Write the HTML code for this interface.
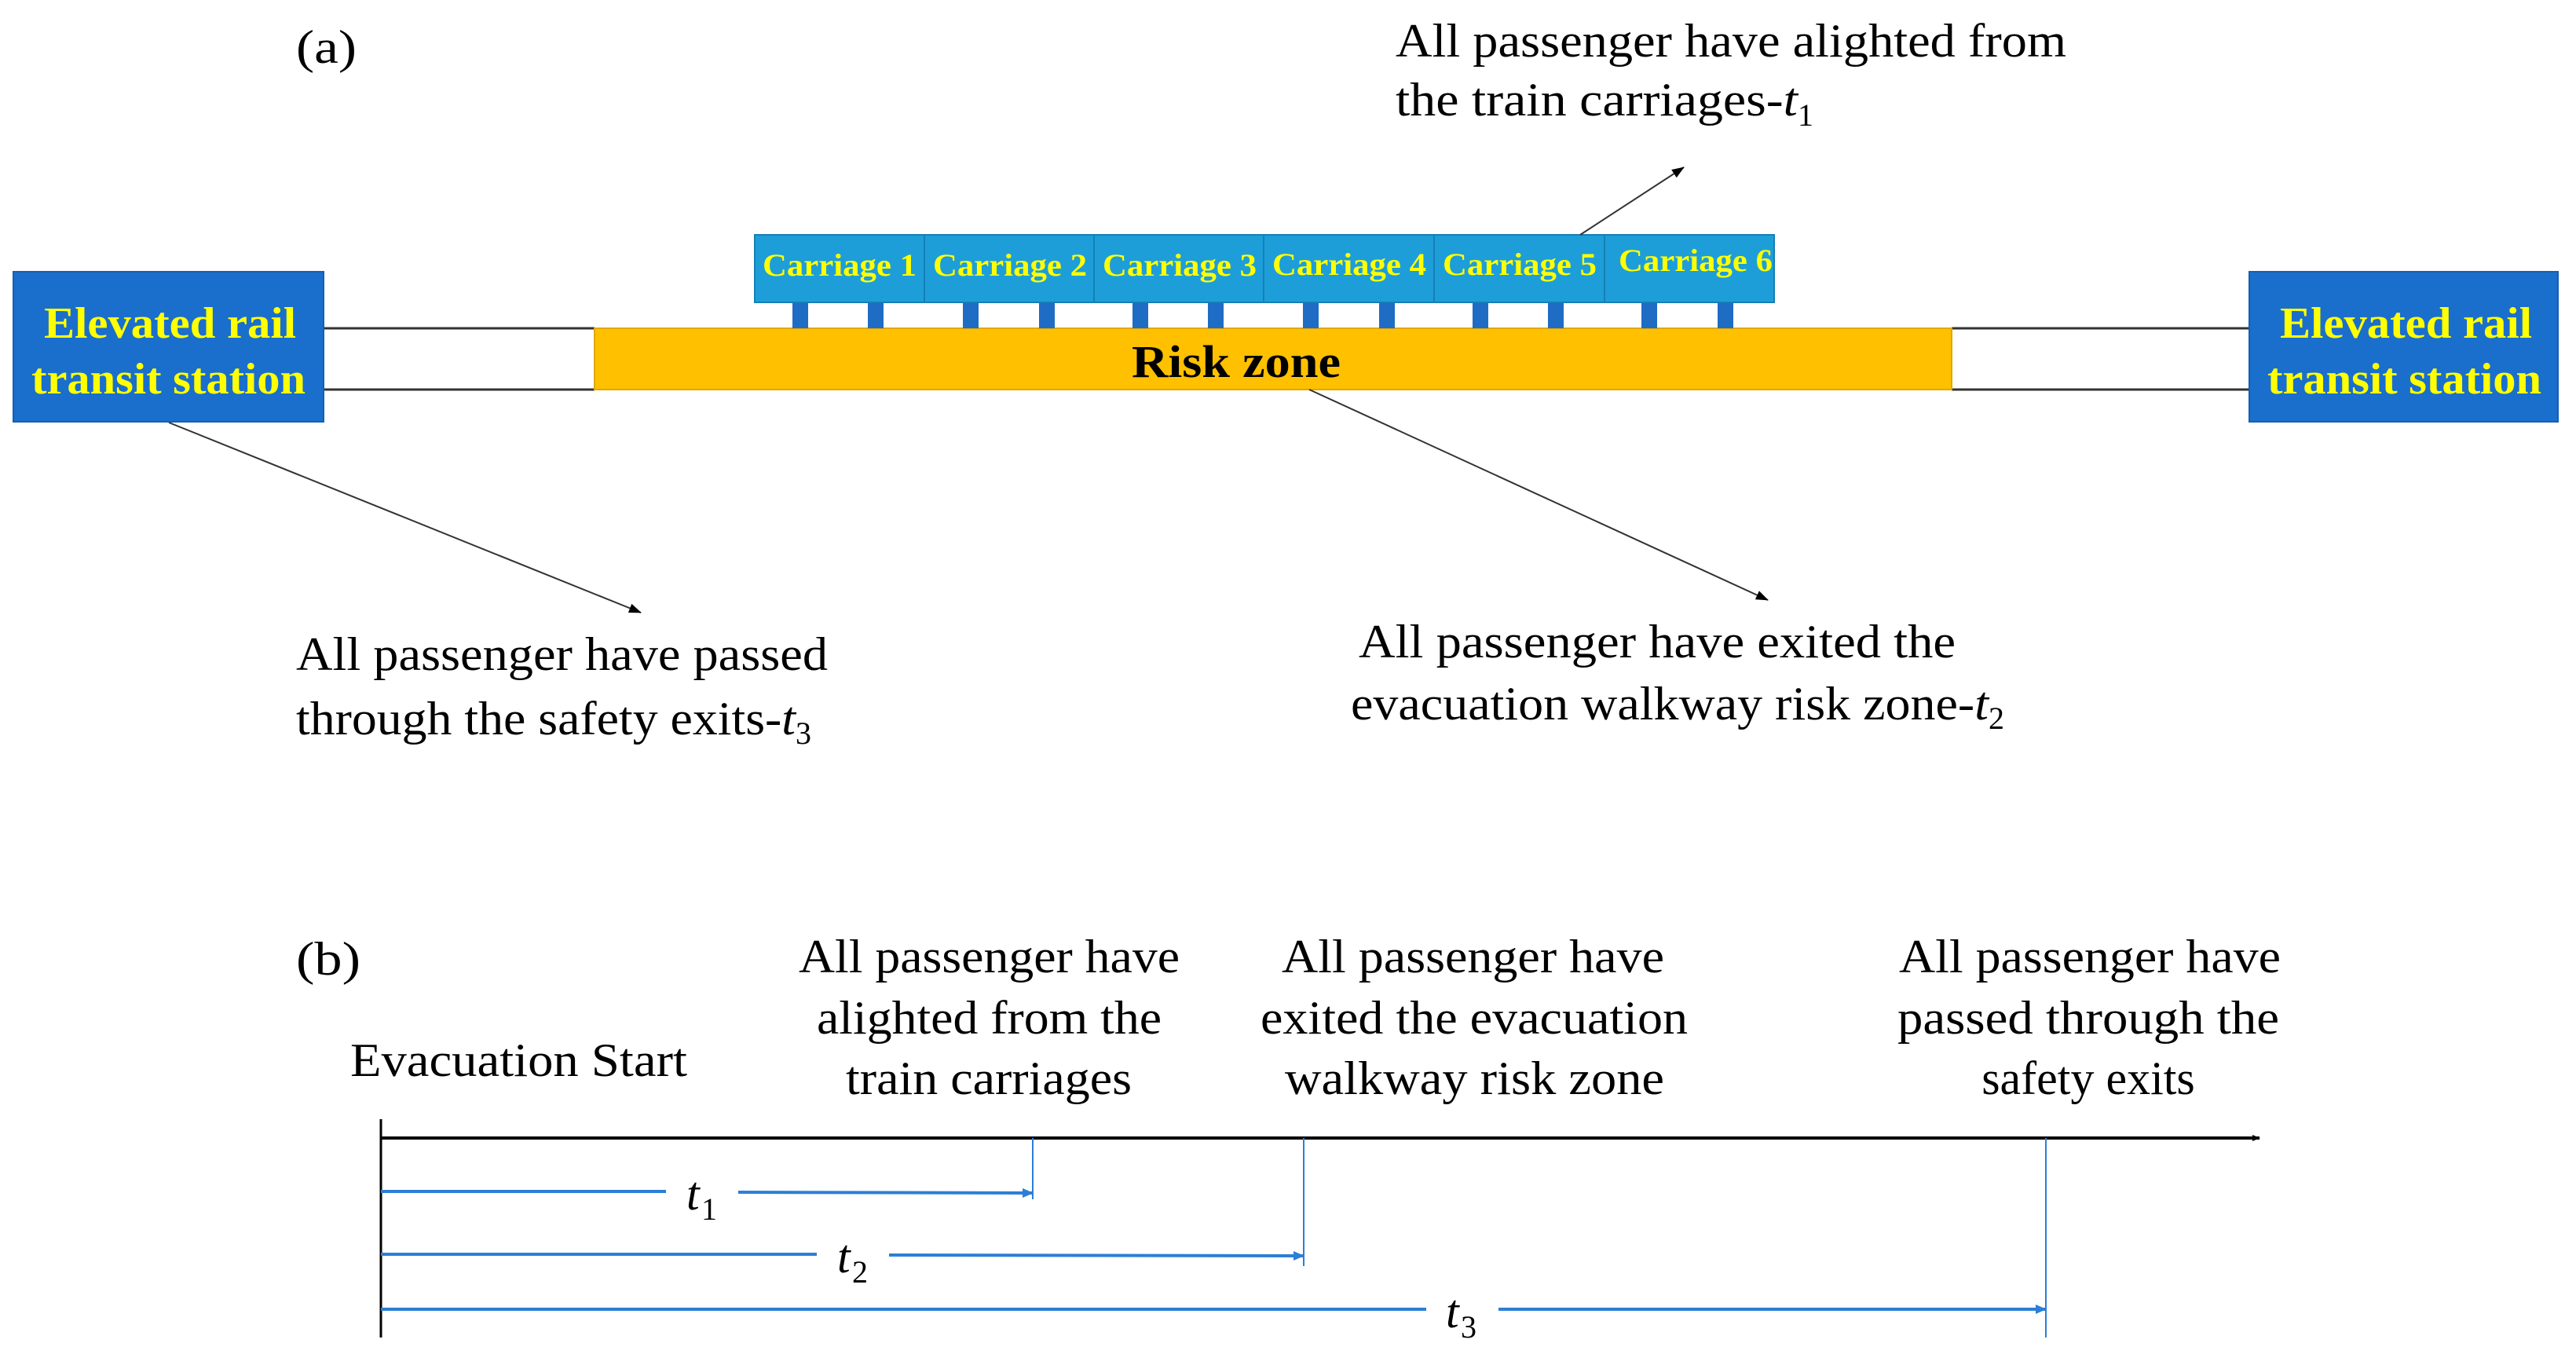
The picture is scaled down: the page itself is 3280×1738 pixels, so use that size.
<!DOCTYPE html>
<html><head><meta charset="utf-8"><style>
html,body{margin:0;padding:0;background:#fff;}
svg{display:block;}
text{font-family:"Liberation Serif",serif;}
</style></head><body>
<svg width="3280" height="1738" viewBox="0 0 3280 1738" xmlns="http://www.w3.org/2000/svg">
<defs>
<marker id="ak" markerWidth="10" markerHeight="8" refX="9" refY="4" orient="auto" markerUnits="userSpaceOnUse"><path d="M0,0 L10,4 L0,8 z" fill="#000"/></marker>
<marker id="ak2" markerWidth="16" markerHeight="12" refX="15" refY="6" orient="auto" markerUnits="userSpaceOnUse"><path d="M0,0 L16,6 L0,12 z" fill="#000"/></marker>
<marker id="ab" markerWidth="14" markerHeight="12" refX="13" refY="6" orient="auto" markerUnits="userSpaceOnUse"><path d="M0,0 L14,6 L0,12 z" fill="#2b7fd6"/></marker>
</defs>

<text x="377" y="80" font-size="60" textLength="77" lengthAdjust="spacingAndGlyphs">(a)</text>

<g stroke="#333" stroke-width="3">
<line x1="412" y1="418" x2="757" y2="418"/><line x1="412" y1="496" x2="757" y2="496"/>
<line x1="2485" y1="418" x2="2864" y2="418"/><line x1="2485" y1="496" x2="2864" y2="496"/>
</g>

<rect x="17" y="346" width="395" height="191" fill="#1a6fcc" stroke="#1560b0" stroke-width="2"/>
<text x="56" y="430" font-size="56" font-weight="bold" fill="#ffff00" textLength="321" lengthAdjust="spacingAndGlyphs">Elevated rail</text>
<text x="40" y="501" font-size="56" font-weight="bold" fill="#ffff00" textLength="349" lengthAdjust="spacingAndGlyphs">transit station</text>
<rect x="2864" y="346" width="393" height="191" fill="#1a6fcc" stroke="#1560b0" stroke-width="2"/>
<text x="2903" y="430" font-size="56" font-weight="bold" fill="#ffff00" textLength="321" lengthAdjust="spacingAndGlyphs">Elevated rail</text>
<text x="2887" y="501" font-size="56" font-weight="bold" fill="#ffff00" textLength="349" lengthAdjust="spacingAndGlyphs">transit station</text>

<rect x="757" y="418" width="1728" height="78" fill="#ffc000" stroke="#e0a800" stroke-width="2"/>
<text x="1441" y="480" font-size="58" font-weight="bold" fill="#000" textLength="266" lengthAdjust="spacingAndGlyphs">Risk zone</text>

<g fill="#1f6cc4">
<rect x="1009" y="385" width="20" height="33"/><rect x="1105" y="385" width="20" height="33"/>
<rect x="1226" y="385" width="20" height="33"/><rect x="1323" y="385" width="20" height="33"/>
<rect x="1442" y="385" width="20" height="33"/><rect x="1538" y="385" width="20" height="33"/>
<rect x="1659" y="385" width="20" height="33"/><rect x="1756" y="385" width="20" height="33"/>
<rect x="1875" y="385" width="20" height="33"/><rect x="1971" y="385" width="20" height="33"/>
<rect x="2090" y="385" width="20" height="33"/><rect x="2187" y="385" width="20" height="33"/>
</g>

<g fill="#1e9ed9" stroke="#167fb5" stroke-width="2">
<rect x="961" y="299" width="216" height="86"/>
<rect x="1177" y="299" width="216" height="86"/>
<rect x="1393" y="299" width="216" height="86"/>
<rect x="1609" y="299" width="217" height="86"/>
<rect x="1826" y="299" width="217" height="86"/>
<rect x="2043" y="299" width="216" height="86"/>
</g>
<g font-size="40" font-weight="bold" fill="#ffff00">
<text x="971" y="351" textLength="196" lengthAdjust="spacingAndGlyphs">Carriage 1</text>
<text x="1188" y="351" textLength="196" lengthAdjust="spacingAndGlyphs">Carriage 2</text>
<text x="1404" y="351" textLength="196" lengthAdjust="spacingAndGlyphs">Carriage 3</text>
<text x="1620" y="350" textLength="196" lengthAdjust="spacingAndGlyphs">Carriage 4</text>
<text x="1837" y="350" textLength="196" lengthAdjust="spacingAndGlyphs">Carriage 5</text>
<text x="2061" y="345" textLength="196" lengthAdjust="spacingAndGlyphs">Carriage 6</text>
</g>

<g stroke="#333" stroke-width="2" fill="none">
<line x1="2012" y1="299" x2="2144" y2="213" marker-end="url(#ak2)"/>
<line x1="215" y1="538" x2="816" y2="780" marker-end="url(#ak2)"/>
<line x1="1667" y1="496" x2="2251" y2="764" marker-end="url(#ak2)"/>
</g>

<g font-size="60" fill="#000">
<text x="1777" y="72" textLength="854" lengthAdjust="spacingAndGlyphs">All passenger have alighted from</text>
<text x="1777" y="147" textLength="512" lengthAdjust="spacingAndGlyphs">the train carriages-<tspan font-style="italic">t</tspan></text>
<text x="2289" y="160" font-size="40">1</text>
<text x="377" y="853" textLength="677" lengthAdjust="spacingAndGlyphs">All passenger have passed</text>
<text x="377" y="935" textLength="636" lengthAdjust="spacingAndGlyphs">through the safety exits-<tspan font-style="italic">t</tspan></text>
<text x="1013" y="947" font-size="40">3</text>
<text x="1730" y="837" textLength="760" lengthAdjust="spacingAndGlyphs">All passenger have exited the</text>
<text x="1720" y="916" textLength="812" lengthAdjust="spacingAndGlyphs">evacuation walkway risk zone-<tspan font-style="italic">t</tspan></text>
<text x="2532" y="928" font-size="40">2</text>
</g>

<g font-size="60" fill="#000">
<text x="377" y="1241" textLength="82" lengthAdjust="spacingAndGlyphs">(b)</text>
<text x="446" y="1370" textLength="429" lengthAdjust="spacingAndGlyphs">Evacuation Start</text>
<text x="1017" y="1238" textLength="485" lengthAdjust="spacingAndGlyphs">All passenger have</text>
<text x="1040" y="1316" textLength="439" lengthAdjust="spacingAndGlyphs">alighted from the</text>
<text x="1077" y="1393" textLength="364" lengthAdjust="spacingAndGlyphs">train carriages</text>
<text x="1632" y="1238" textLength="487" lengthAdjust="spacingAndGlyphs">All passenger have</text>
<text x="1605" y="1316" textLength="544" lengthAdjust="spacingAndGlyphs">exited the evacuation</text>
<text x="1636" y="1393" textLength="483" lengthAdjust="spacingAndGlyphs">walkway risk zone</text>
<text x="2418" y="1238" textLength="486" lengthAdjust="spacingAndGlyphs">All passenger have</text>
<text x="2416" y="1316" textLength="486" lengthAdjust="spacingAndGlyphs">passed through the</text>
<text x="2659" y="1393" text-anchor="middle">safety exits</text>
</g>

<line x1="485" y1="1425" x2="485" y2="1703" stroke="#000" stroke-width="3"/>
<line x1="485" y1="1449" x2="2877" y2="1449" stroke="#000" stroke-width="4" marker-end="url(#ak)"/>
<g stroke="#2b7fd6" stroke-width="2">
<line x1="1315" y1="1449" x2="1315" y2="1527"/>
<line x1="1660" y1="1449" x2="1660" y2="1612"/>
<line x1="2605" y1="1449" x2="2605" y2="1703"/>
</g>
<g stroke="#2b7fd6" stroke-width="4" fill="none">
<line x1="485" y1="1517" x2="848" y2="1517"/>
<line x1="940" y1="1518" x2="1315" y2="1519" marker-end="url(#ab)"/>
<line x1="485" y1="1597" x2="1040" y2="1597"/>
<line x1="1132" y1="1598" x2="1660" y2="1599" marker-end="url(#ab)"/>
<line x1="485" y1="1667" x2="1816" y2="1667"/>
<line x1="1908" y1="1667" x2="2605" y2="1667" marker-end="url(#ab)"/>
</g>
<g font-size="60" fill="#000" font-style="italic">
<text x="874" y="1540">t</text><text x="893" y="1553" font-size="40" font-style="normal">1</text>
<text x="1066" y="1620">t</text><text x="1085" y="1633" font-size="40" font-style="normal">2</text>
<text x="1841" y="1690">t</text><text x="1860" y="1703" font-size="40" font-style="normal">3</text>
</g>
</svg>
</body></html>
